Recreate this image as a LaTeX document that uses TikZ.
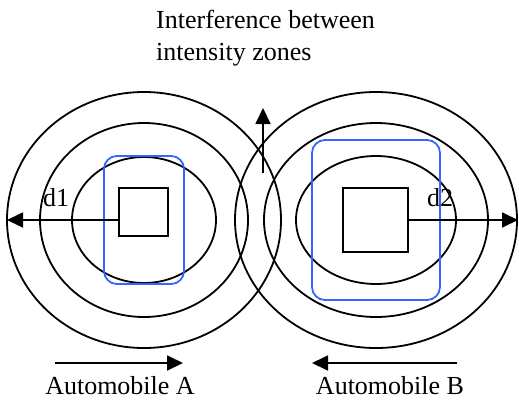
\documentclass[tikz,border=0pt]{standalone}
\usepackage{fontspec}
\setmainfont{Liberation Serif}
\usetikzlibrary{arrows.meta}
\definecolor{blueline}{RGB}{51,102,255}
\tikzset{
  zone/.style={line width=1.8pt},
  carbox/.style={draw, line width=1.8pt, inner sep=0pt},
  cabin/.style={draw=blueline, line width=1.8pt, rounded corners=13pt},
  dirarrow/.style={line width=1.8pt, -{Triangle[length=16pt,width=15pt]}},
  lbl/.style={inner sep=0pt, font=\fontsize{26}{32}\selectfont}
}
\begin{document}
\begin{tikzpicture}[x=1pt,y=-1pt]
  \useasboundingbox (0,0) rectangle (519,399);
  % Intensity zones of automobile A
  \draw[zone] (144,220) ellipse [x radius=72pt, y radius=63pt];
  \draw[zone] (144,220) ellipse [x radius=104pt, y radius=97pt];
  \draw[zone] (144,220) ellipse [x radius=137pt, y radius=128pt];
  % Intensity zones of automobile B
  \draw[zone] (376,220) ellipse [x radius=80pt, y radius=64pt];
  \draw[zone] (376,220) ellipse [x radius=112pt, y radius=97pt];
  \draw[zone] (376,220) ellipse [x radius=141pt, y radius=128pt];
  % Blue outlines
  \draw[cabin] (104,156) rectangle (184,284);
  \draw[cabin] (312,140) rectangle (440,300);
  % Automobiles
  \node[carbox, minimum width=49pt, minimum height=48pt] (carA) at (143.5,212) {};
  \node[carbox, minimum width=65pt, minimum height=64pt] (carB) at (375.5,220) {};
  % Distances
  \coordinate (d1tip) at (7,220);
  \coordinate (d2tip) at (518,220);
  \draw[dirarrow] (carA.west |- d1tip) -- (d1tip);
  \draw[dirarrow] (carB.east |- d2tip) -- (d2tip);
  \node[lbl, anchor=base west] (d1) at (43,206) {d1};
  \node[lbl, anchor=base west] (d2) at (427,206) {d2};
  % Interference
  \coordinate (ifbase) at (263,173);
  \coordinate (iftip) at (263,108);
  \draw[dirarrow] (ifbase) -- (iftip);
  \node[lbl, anchor=north west, align=left] (note) at (156,10) {Interference between\\intensity zones};
  % Driving directions
  \coordinate (aStart) at (55,363);
  \coordinate (aEnd) at (183,363);
  \coordinate (bStart) at (457,363);
  \coordinate (bEnd) at (312,363);
  \draw[dirarrow] (aStart) -- (aEnd);
  \draw[dirarrow] (bStart) -- (bEnd);
  \node[lbl, anchor=base] (nameA) at (120,394) {Automobile A};
  \node[lbl, anchor=base] (nameB) at (390,394) {Automobile B};
\end{tikzpicture}
\end{document}
